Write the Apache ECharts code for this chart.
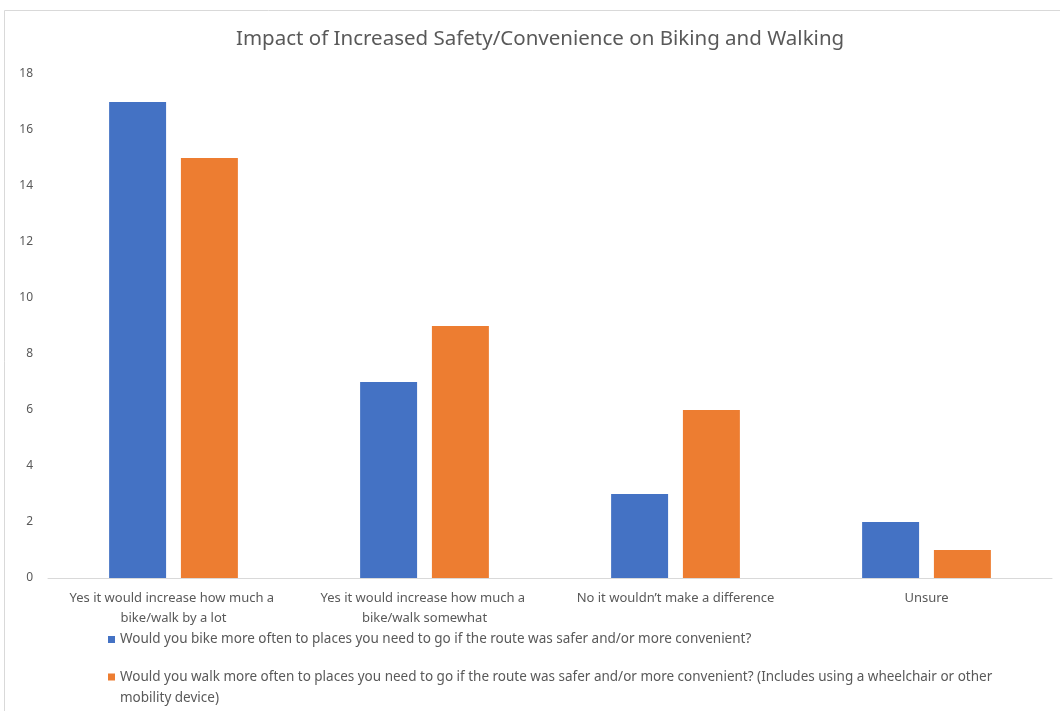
<!DOCTYPE html>
<html>
<head>
<meta charset="utf-8">
<script src="https://cdn.jsdelivr.net/npm/echarts@6/dist/echarts.min.js"></script>
<style>
  html, body { margin: 0; padding: 0; background: #ffffff; }
  #chart { width: 1060px; height: 711px; }
</style>
</head>
<body>
<div id="chart"></div>
<script>
const titleText = 'Impact of Increased Safety/Convenience on Biking and Walking';
const categories = [
  'Yes it would increase how much a bike/walk by a lot',
  'Yes it would increase how much a bike/walk somewhat',
  'No it wouldn\u2019t make a difference',
  'Unsure'
];
const bikeName = 'Would you bike more often to places you need to go if the route was safer and/or more convenient?';
const walkName = 'Would you walk more often to places you need to go if the route was safer and/or more convenient? (Includes using a wheelchair or other mobility device)';
const bikeValues = [17, 7, 3, 2];
const walkValues = [15, 9, 6, 1];
const yMin = 0, yMax = 18, yInterval = 2;

const FONT = 'Noto Sans';
const TXT = '#595959';

const legendBase = {
  orient: 'vertical',
  left: 108,
  width: 940,
  height: 45,
  padding: 0,
  itemWidth: 7,
  itemHeight: 7,
  icon: 'rect',
  itemStyle: { borderWidth: 0 },
  textStyle: {
    color: TXT, fontFamily: FONT, fontSize: 13.5, lineHeight: 21,
    width: 880, overflow: 'break'
  }
};

const chart = echarts.init(document.getElementById('chart'));
chart.setOption({
  backgroundColor: '#ffffff',
  animation: false,
  color: ['#4472C4', '#ED7D31'],
  graphic: [{
    type: 'rect',
    shape: { x: 4.5, y: 10.5, width: 1200, height: 900 },
    style: { fill: 'none', stroke: '#D9D9D9', lineWidth: 1 },
    silent: true
  }],
  title: {
    text: titleText,
    left: 236,
    top: 29,
    padding: 0,
    textStyle: { fontFamily: FONT, fontSize: 20.5, fontWeight: 'normal', color: TXT }
  },
  grid: { left: 48, right: 8, top: 74, bottom: 133, containLabel: false },
  xAxis: {
    type: 'category',
    data: categories,
    axisLine: { show: true, lineStyle: { color: '#D9D9D9', width: 1 } },
    axisTick: { show: false },
    axisLabel: {
      interval: 0,
      margin: 10,
      color: TXT,
      fontFamily: FONT,
      fontSize: 13,
      lineHeight: 20,
      width: 218,
      overflow: 'break'
    }
  },
  yAxis: {
    type: 'value',
    min: yMin, max: yMax, interval: yInterval,
    axisLine: { show: false },
    axisTick: { show: false },
    splitLine: { show: false },
    axisLabel: { color: TXT, fontFamily: FONT, fontSize: 12, margin: 15 }
  },
  legend: [
    Object.assign({}, legendBase, { top: 629, data: [{ name: bikeName }] }),
    Object.assign({}, legendBase, {
      top: 666.5,
      itemHeight: 28,
      icon: 'path://M0 0H7V7H0Z M0 28H0.01',
      data: [{ name: walkName }]
    })
  ],
  series: [
    { name: bikeName, type: 'bar', data: bikeValues, barWidth: '22.7%', barGap: '26%' },
    { name: walkName, type: 'bar', data: walkValues, barWidth: '22.7%', barGap: '26%' }
  ]
});
</script>
</body>
</html>
